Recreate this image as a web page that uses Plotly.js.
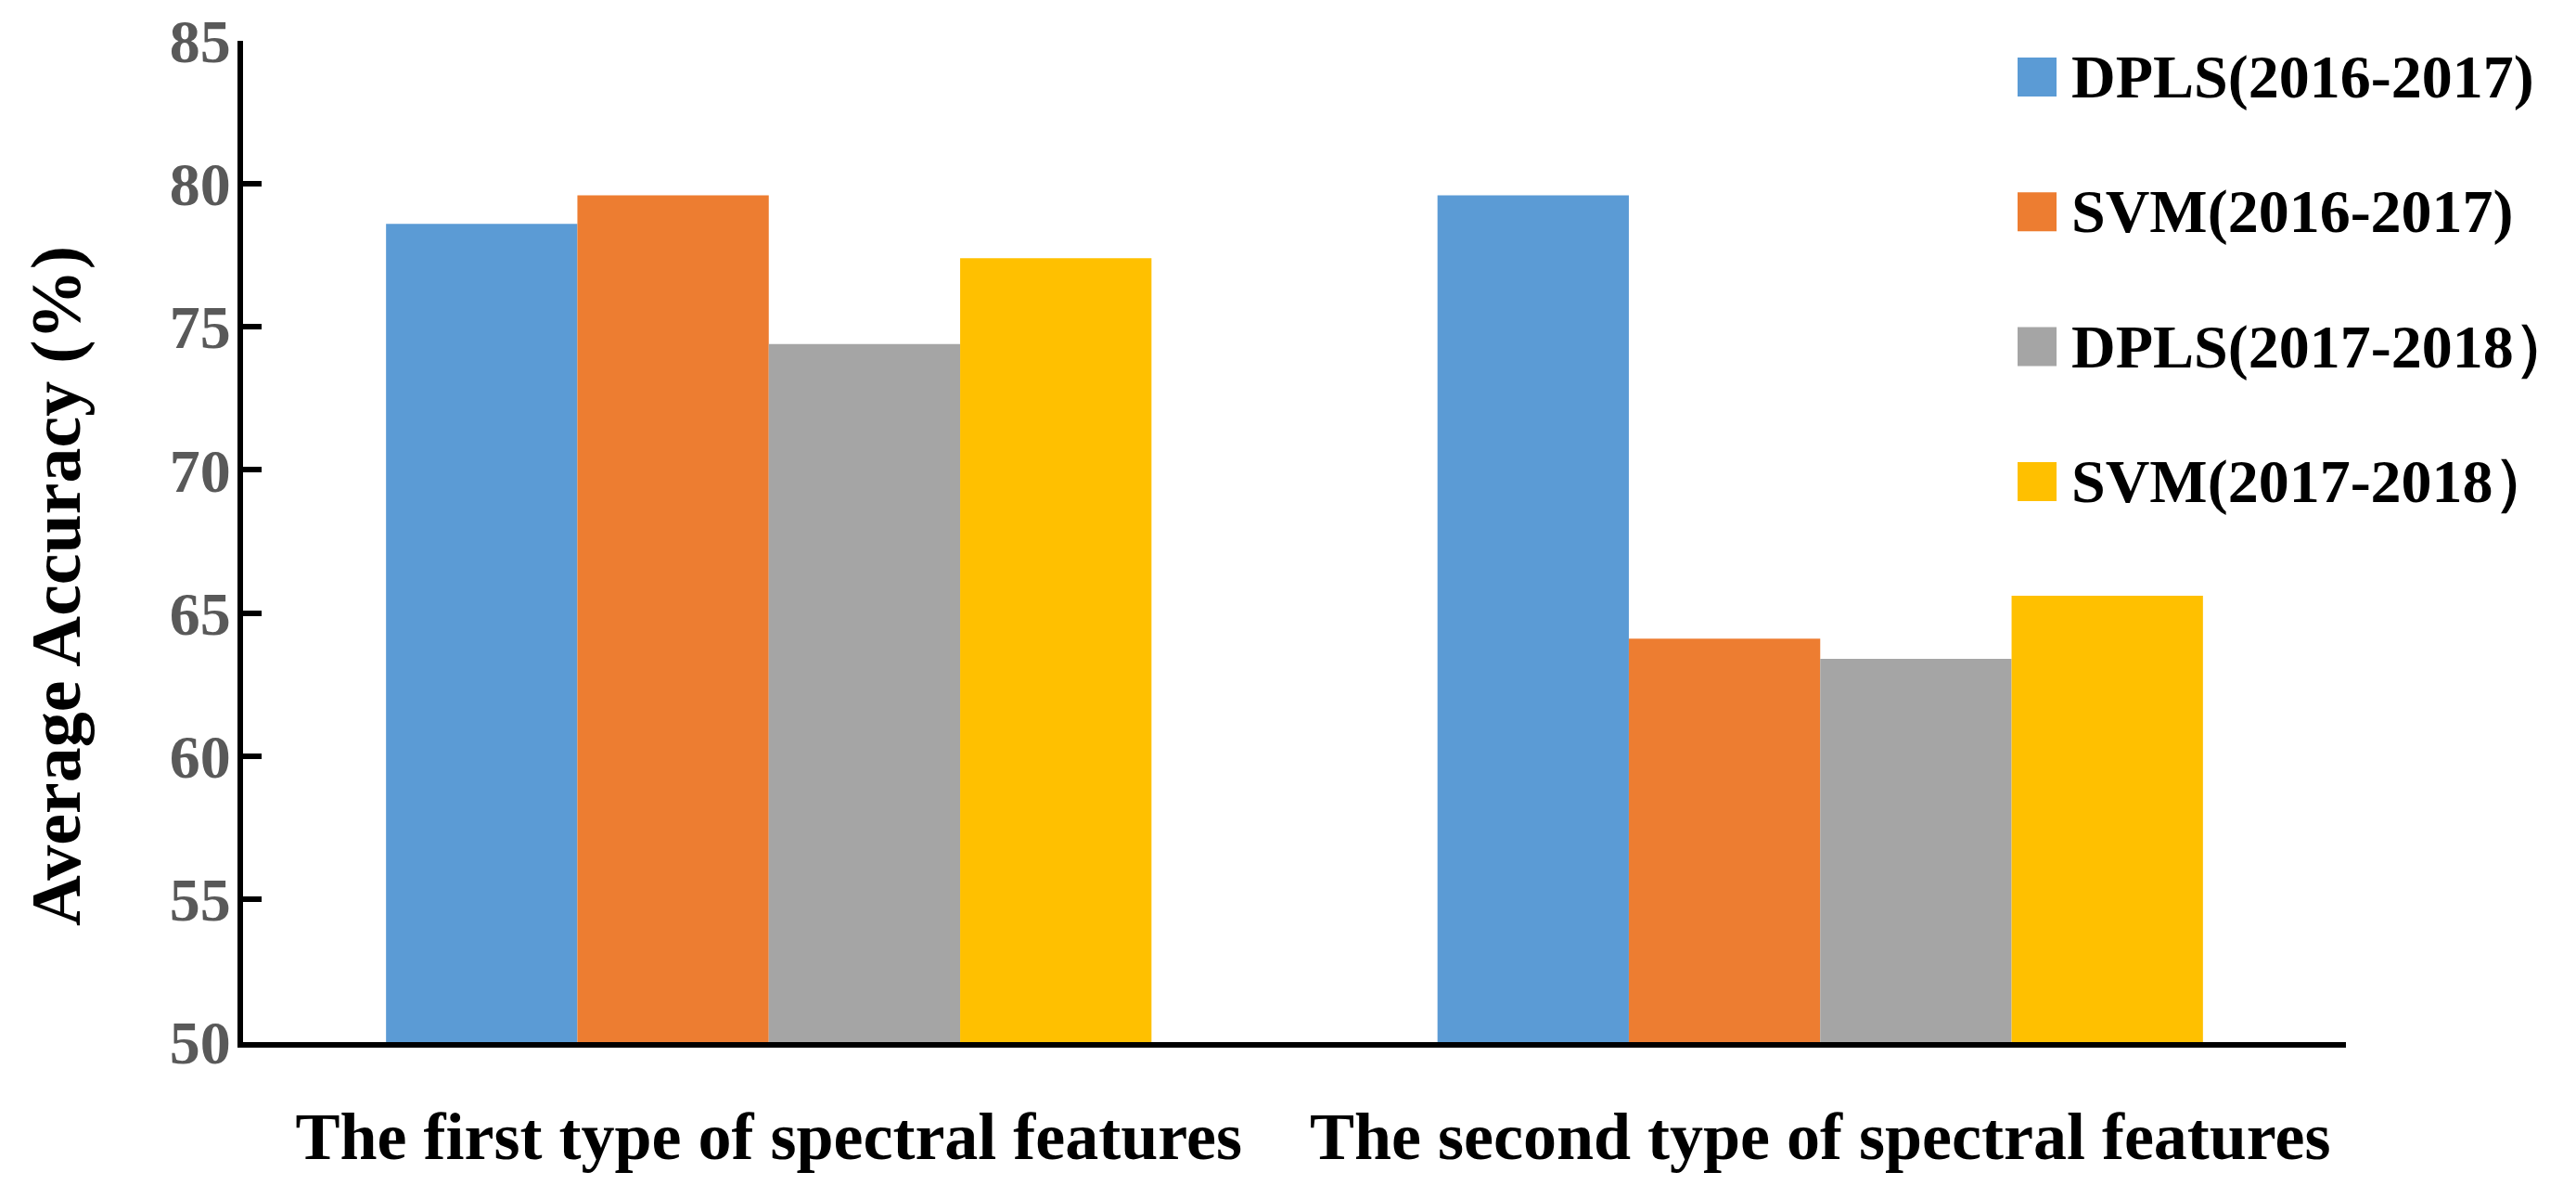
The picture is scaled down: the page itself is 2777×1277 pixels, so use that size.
<!DOCTYPE html>
<html>
<head>
<meta charset="utf-8">
<script src="https://cdn.plot.ly/plotly-3.0.1.min.js"></script>
<style>
html,body{margin:0;padding:0;background:#ffffff;}
#chart{width:2777px;height:1277px;}
</style>
</head>
<body>
<div id="chart"></div>
<script>
// ---- data ----
const categories = ["The first type of spectral features", "The second type of spectral features"];
const seriesNames = ["DPLS(2016-2017)", "SVM(2016-2017)", "DPLS(2017-2018\uFF09", "SVM(2017-2018\uFF09"];
const dpls1617 = [78.6, 79.6];
const svm1617 = [79.6, 64.1];
const dpls1718 = [74.4, 63.4];
const svm1718 = [77.4, 65.6];
const seriesColors = ["#5B9BD5", "#ED7D31", "#A5A5A5", "#FFC000"];
const yTickValues = [50, 55, 60, 65, 70, 75, 80, 85];
const yTitle = "Average Accuracy (%)";

const seriesValues = [dpls1617, svm1617, dpls1718, svm1718];

// ---- geometry ----
const W = 2777, H = 1277;
const M = {l: 262, r: 248, t: 44, b: 154};
const plotW = W - M.l - M.r, plotH = H - M.t - M.b;
const px2x = p => (p - M.l) / plotW;
const py2y = p => (H - M.b - p) / plotH;

const FONT = "Liberation Serif, Times New Roman, serif";

const traces = seriesNames.map((name, i) => ({
  type: "bar",
  name: name,
  x: categories,
  y: seriesValues[i],
  marker: {color: seriesColors[i], line: {width: 0}},
  showlegend: false,
  hoverinfo: "x+y+name"
}));

// legend drawn as shapes + annotations built from the series arrays
const legendTop = 83, legendStep = 145.3, sq = 42, sqLeft = 2175, textLeft = 2231;
const shapes = [];
const annotations = [];
seriesNames.forEach((name, i) => {
  const cy = legendTop + i * legendStep;
  shapes.push({
    type: "rect", xref: "paper", yref: "paper",
    x0: px2x(sqLeft), x1: px2x(sqLeft + sq),
    y0: py2y(cy - sq / 2), y1: py2y(cy + sq / 2),
    fillcolor: seriesColors[i], line: {width: 0}
  });
  annotations.push({
    xref: "paper", yref: "paper",
    x: px2x(textLeft), y: py2y(cy),
    xanchor: "left", yanchor: "middle",
    text: name, showarrow: false,
    font: {family: FONT, size: 66, color: "#000000", weight: "bold"}
  });
});
annotations.push({
  xref: "paper", yref: "paper",
  x: px2x(60), y: py2y(632),
  xanchor: "center", yanchor: "middle",
  text: yTitle, textangle: -90, showarrow: false,
  font: {family: FONT, size: 76, color: "#000000", weight: "bold"}
});

const layout = {
  width: W, height: H,
  margin: M,
  paper_bgcolor: "#ffffff",
  plot_bgcolor: "#ffffff",
  barmode: "group",
  bargap: 0.272,
  bargroupgap: 0,
  showlegend: false,
  xaxis: {
    type: "category",
    showline: true, linecolor: "#000000", linewidth: 6,
    ticks: "", showgrid: false, zeroline: false,
    tickfont: {family: FONT, size: 72, color: "#000000", weight: "bold"},
    ticklabelstandoff: 34
  },
  yaxis: {
    range: [50, 85],
    tickvals: yTickValues,
    ticktext: yTickValues.map(String),
    showline: true, linecolor: "#000000", linewidth: 6,
    ticks: "inside", ticklen: 20, tickwidth: 6, tickcolor: "#000000",
    showgrid: false, zeroline: false,
    tickfont: {family: FONT, size: 66, color: "#595959", weight: "bold"},
    ticklabelstandoff: -6
  },
  shapes: shapes,
  annotations: annotations
};

Plotly.newPlot("chart", traces, layout, {displayModeBar: false, staticPlot: true});
</script>
</body>
</html>
